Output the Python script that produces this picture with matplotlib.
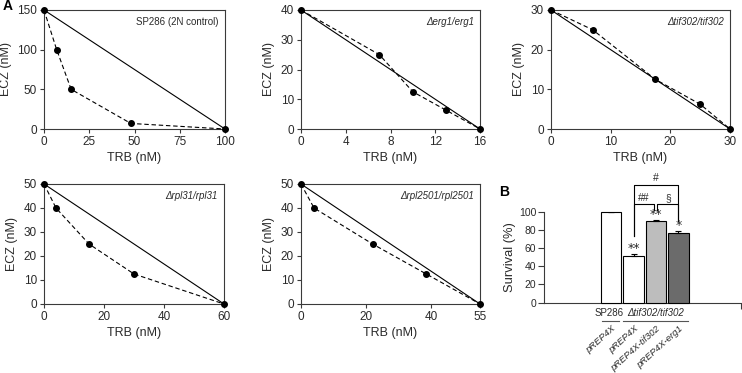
import matplotlib
matplotlib.use("Agg")
import matplotlib.pyplot as plt

plt.rcParams['font.family'] = ['Liberation Sans', 'DejaVu Sans']

W, H = 742, 373

# ---------------- data ----------------
# Panel A isobolograms: TRB (x), ECZ (y)
sp286_x = [0, 7, 15, 48, 100]
sp286_y = [150, 100, 50, 7, 0]
erg1_x = [0, 7, 10, 13, 16]
erg1_y = [40, 25, 12.5, 6.25, 0]
tif302_x = [0, 7, 17.5, 25, 30]
tif302_y = [30, 25, 12.5, 6.25, 0]
rpl31_x = [0, 4, 15, 30, 60]
rpl31_y = [50, 40, 25, 12.5, 0]
rpl2501_x = [0, 4, 22, 38.5, 55]
rpl2501_y = [50, 40, 25, 12.5, 0]

sp286_xticks = [0, 25, 50, 75, 100]
sp286_yticks = [0, 50, 100, 150]
erg1_xticks = [0, 4, 8, 12, 16]
erg1_yticks = [0, 10, 20, 30, 40]
tif302_xticks = [0, 10, 20, 30]
tif302_yticks = [0, 10, 20, 30]
rpl31_xticks = [0, 20, 40, 60]
rpl31_yticks = [0, 10, 20, 30, 40, 50]
rpl2501_xticks = [0, 20, 40, 55]
rpl2501_yticks = [0, 10, 20, 30, 40, 50]

# Panel B survival
surv_labels = ['pREP4X', 'pREP4X', 'pREP4X-tif302', 'pREP4X-erg1']
surv_values = [100, 51, 90, 76]
surv_errors = [0, 2, 1, 2.5]
surv_stars = ['', '**', '**', '*']


def ax_px(x0, x1, y0, y1):
    return plt.gcf().add_axes([x0 / W, (H - y1) / H, (x1 - x0) / W, (y1 - y0) / H])


fig = plt.figure(figsize=(W / 100, H / 100), dpi=100)

spine_c = '#3a3a3a'
text_c = '#2a2a2a'

panels = [
    (sp286_x, sp286_y, sp286_xticks, sp286_yticks, 'SP286 (2N control)', 'normal', (44, 225, 10, 129)),
    (erg1_x, erg1_y, erg1_xticks, erg1_yticks, '\u0394erg1/erg1', 'italic', (301, 480, 10, 129)),
    (tif302_x, tif302_y, tif302_xticks, tif302_yticks, '\u0394tif302/tif302', 'italic', (551, 730, 10, 129)),
    (rpl31_x, rpl31_y, rpl31_xticks, rpl31_yticks, '\u0394rpl31/rpl31', 'italic', (44, 224, 184, 304)),
    (rpl2501_x, rpl2501_y, rpl2501_xticks, rpl2501_yticks, '\u0394rpl2501/rpl2501', 'italic', (301, 480, 184, 304)),
]

for xs, ys, xt, yt, title, style, box in panels:
    ax = ax_px(*box)
    xmax, ymax = xs[-1], ys[0]
    ax.plot([0, xmax], [ymax, 0], color='black', lw=0.8, clip_on=False)
    ax.plot(xs, ys, color='black', lw=0.8, ls=(0, (4, 2.5)), marker='o', ms=4,
            clip_on=False, zorder=3)
    ax.set_xlim(0, xmax)
    ax.set_ylim(0, ymax)
    ax.set_xticks(xt)
    ax.set_yticks(yt)
    for s in ax.spines.values():
        s.set_color(spine_c)
        s.set_linewidth(0.8)
    ax.tick_params(direction='out', length=3, width=0.8, color=spine_c,
                   labelsize=8.5, labelcolor=text_c, pad=2)
    ax.set_xlabel('TRB (nM)', fontsize=9, color=text_c, labelpad=3)
    ax.set_ylabel('ECZ (nM)', fontsize=9, color=text_c, labelpad=4)
    ax.text(0.965, 0.9, title, transform=ax.transAxes, ha='right', va='center',
            fontsize=7, style=style, color=text_c)

fig.text(3 / W, 1 - 6 / H, 'A', fontsize=10, fontweight='bold', ha='left', va='center')
fig.text(499 / W, 1 - 192 / H, 'B', fontsize=10, fontweight='bold', ha='left', va='center')

# ---------------- Panel B ----------------
axb = ax_px(544, 741, 211.5, 302.7)
pos = [0, 1, 2, 3]
colors = ['white', 'white', '#bdbdbd', '#6b6b6b']
axb.bar(pos, surv_values, width=0.91, color=colors, edgecolor='black', linewidth=0.8,
        yerr=[[0] * 4, surv_errors], error_kw=dict(ecolor='black', elinewidth=0.8, capsize=2, capthick=0.8),
        clip_on=False, zorder=3)
axb.set_xlim(-3.0, 5.8)
axb.set_ylim(0, 100)
axb.set_yticks([0, 20, 40, 60, 80, 100])
axb.set_xticks([5.8])
axb.set_xticklabels([''])
axb.spines['top'].set_visible(False)
axb.spines['right'].set_visible(False)
for s in ['left', 'bottom']:
    axb.spines[s].set_color(spine_c)
    axb.spines[s].set_linewidth(0.8)
axb.tick_params(direction='out', length=4, width=0.8, color=spine_c,
                labelsize=7.5, labelcolor=text_c, pad=1.5)
axb.set_ylabel('Survival (%)', fontsize=9.3, color=text_c, labelpad=2)

for p, v, e, st in zip(pos, surv_values, surv_errors, surv_stars):
    if st:
        axb.text(p, v + e - 1, st, ha='center', va='bottom', fontsize=9, color=text_c,
                 family=['DejaVu Sans'], clip_on=False)

# brackets
def bracket(x0, x1, y, y0, y1, label, ly):
    axb.plot([x0, x0, x1, x1], [y0, y, y, y1], color='black', lw=0.8, clip_on=False)
    axb.text((x0 + x1) / 2, ly, label, ha='center', va='center', fontsize=7.5, color=text_c)

bracket(1, 3, 129, 73, 90, '#', 137)
bracket(1, 1.93, 108, 73, 101.5, '##', 115)
bracket(2.07, 3, 108, 101.5, 90, '\u00a7', 115)

# group labels under axis
trans = axb.get_xaxis_transform()
axb.text(-0.1, -0.11, 'SP286', transform=trans, ha='center', va='center', fontsize=7, color=text_c, clip_on=False)
axb.text(2.0, -0.11, '\u0394tif302/tif302', transform=trans, ha='center', va='center', fontsize=7,
         style='italic', color=text_c, clip_on=False)
axb.plot([-0.4, 0.35], [-0.2, -0.2], transform=trans, color='#555555', lw=0.8, clip_on=False)
axb.plot([0.55, 3.45], [-0.2, -0.2], transform=trans, color='#555555', lw=0.8, clip_on=False)
for p, lab in zip(pos, surv_labels):
    axb.text(p + 0.15, -0.27, lab, transform=trans, ha='right', va='center', rotation=42,
             rotation_mode='anchor', fontsize=6.8, style='italic', color=text_c, clip_on=False)

fig.savefig('out.png', dpi=100)
